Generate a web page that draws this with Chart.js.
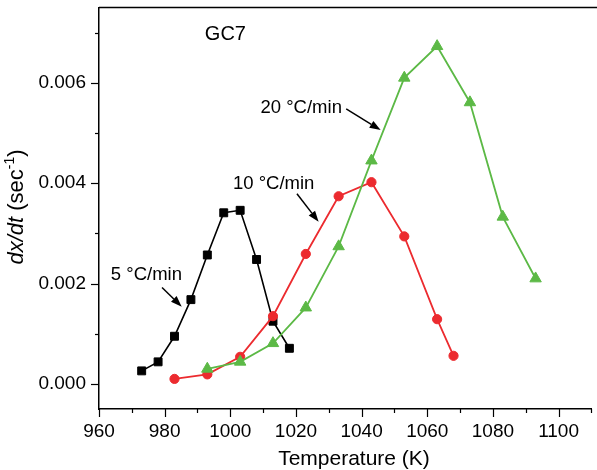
<!DOCTYPE html>
<html>
<head>
<meta charset="utf-8">
<script src="https://cdn.jsdelivr.net/npm/chart.js@4/dist/chart.umd.min.js"></script>
<style>
  html, body { margin: 0; padding: 0; background: #fff; overflow: hidden; }
  #chart { display: block; }
</style>
</head>
<body>
<canvas id="chart" width="599" height="470"></canvas>
<script>
// Temperaturas (K) e taxas dx/dt
const temps5 = [973, 978, 983, 988, 993, 998, 1003, 1008, 1013, 1018];
const rate5 = [0.00026, 0.00044, 0.00095, 0.00168, 0.00257, 0.00341, 0.00346, 0.00248, 0.00125, 0.00071];

const temps10 = [983, 993, 1003, 1013, 1023, 1033, 1043, 1053, 1063, 1068];
const rate10 = [0.00010, 0.00019, 0.00054, 0.00135, 0.00259, 0.00374, 0.00402, 0.00294, 0.00129, 0.00056];

const temps20 = [993, 1003, 1013, 1023, 1033, 1043, 1053, 1063, 1073, 1083, 1093];
const rate20 = [0.00030, 0.00044, 0.00081, 0.00152, 0.00274, 0.00445, 0.00610, 0.00673, 0.00561, 0.00333, 0.00210];

const xTicks = [960, 980, 1000, 1020, 1040, 1060, 1080, 1100];
const yTicks = [0, 0.002, 0.004, 0.006];

// Textos e setas (coordenadas em unidades dos eixos)
const notes = [
    { text: 'GC7', x: 998.5, y: 0.00697, align: 'center', size: 20 },
    { text: '20 °C/min', x: 1009.2, y: 0.00550, align: 'left', size: 18.5 },
    { text: '10 °C/min', x: 1000.8, y: 0.00399, align: 'left', size: 18.5 },
    { text: '5 °C/min', x: 963.6, y: 0.00218, align: 'left', size: 18.5 }
];
const arrows = [
    [1035.3, 0.00548, 1045.8, 0.00506],
    [1020.3, 0.00379, 1026.9, 0.00323],
    [979.2, 0.00192, 985.2, 0.00154]
];

const FONT = "'Liberation Sans', Arial, Helvetica, sans-serif";

function toPoints(xs, ys) {
    return xs.map((x, i) => ({ x: x, y: ys[i] }));
}

// Plugin para bordas, ticks, títulos e anotações
const extras = {
    id: 'extras',
    afterDraw(chart) {
        const ctx = chart.ctx;
        const area = chart.chartArea;
        const xs = chart.scales.x;
        const ys = chart.scales.y;
        ctx.save();
        ctx.strokeStyle = '#000';
        ctx.fillStyle = '#000';
        ctx.lineWidth = 1.5;

        // borda superior
        ctx.beginPath();
        ctx.moveTo(area.left, area.top);
        ctx.lineTo(chart.width, area.top);
        ctx.stroke();

        // ticks do eixo x
        ctx.lineWidth = 1.2;
        for (let v = 960; v <= 1110; v += 10) {
            const px = Math.round(xs.getPixelForValue(v)) + 0.5;
            const len = xTicks.includes(v) ? 8 : 4;
            ctx.beginPath();
            ctx.moveTo(px, area.bottom);
            ctx.lineTo(px, area.bottom + len);
            ctx.stroke();
        }
        // ticks do eixo y
        for (let k = 0; k <= 7; k++) {
            const v = k * 0.001;
            const py = Math.round(ys.getPixelForValue(v)) + 0.5;
            const len = k % 2 === 0 ? 8 : 4;
            ctx.beginPath();
            ctx.moveTo(area.left, py);
            ctx.lineTo(area.left - len, py);
            ctx.stroke();
        }

        // título do eixo x
        ctx.font = '21px ' + FONT;
        ctx.textAlign = 'center';
        ctx.textBaseline = 'middle';
        ctx.fillText('Temperature (K)', 354, 459);

        // título do eixo y (com itálico e sobrescrito)
        const parts = [
            { t: 'dx/dt', f: 'italic 22px ' + FONT, dy: 0 },
            { t: ' (sec', f: '22px ' + FONT, dy: 0 },
            { t: '-1', f: '14px ' + FONT, dy: -7 },
            { t: ')', f: '22px ' + FONT, dy: 0 }
        ];
        let total = 0;
        parts.forEach(p => { ctx.font = p.f; p.w = ctx.measureText(p.t).width; total += p.w; });
        ctx.translate(17, 207);
        ctx.rotate(-Math.PI / 2);
        ctx.textAlign = 'left';
        let cx = -total / 2;
        parts.forEach(p => {
            ctx.font = p.f;
            ctx.fillText(p.t, cx, p.dy);
            cx += p.w;
        });
        ctx.setTransform(1, 0, 0, 1, 0, 0);

        // anotações
        notes.forEach(n => {
            ctx.font = n.size + 'px ' + FONT;
            ctx.textAlign = n.align;
            ctx.textBaseline = 'middle';
            ctx.fillText(n.text, xs.getPixelForValue(n.x), ys.getPixelForValue(n.y));
        });

        // setas
        ctx.lineWidth = 1.5;
        arrows.forEach(a => {
            const x1 = xs.getPixelForValue(a[0]), y1 = ys.getPixelForValue(a[1]);
            const x2 = xs.getPixelForValue(a[2]), y2 = ys.getPixelForValue(a[3]);
            const ang = Math.atan2(y2 - y1, x2 - x1);
            const head = 11, half = 4;
            const bx = x2 - head * Math.cos(ang), by = y2 - head * Math.sin(ang);
            ctx.beginPath();
            ctx.moveTo(x1, y1);
            ctx.lineTo(bx, by);
            ctx.stroke();
            ctx.beginPath();
            ctx.moveTo(x2, y2);
            ctx.lineTo(bx + half * Math.sin(ang), by - half * Math.cos(ang));
            ctx.lineTo(bx - half * Math.sin(ang), by + half * Math.cos(ang));
            ctx.closePath();
            ctx.fill();
        });
        ctx.restore();
    }
};

const ctx = document.getElementById('chart');

const myChart = new Chart(ctx, {
    type: 'line',
    data: {
        datasets: [
            {
                label: '5 °C/min',
                data: toPoints(temps5, rate5),
                borderColor: '#000000',
                backgroundColor: '#000000',
                borderWidth: 1.6,
                pointStyle: 'rect',
                pointRadius: 5.6,
                pointBorderWidth: 1,
                order: 3
            },
            {
                label: '10 °C/min',
                data: toPoints(temps10, rate10),
                borderColor: '#ec2b2f',
                backgroundColor: '#ec2b2f',
                borderWidth: 1.8,
                pointStyle: 'circle',
                pointRadius: 4.6,
                pointBorderWidth: 1,
                order: 2
            },
            {
                label: '20 °C/min',
                data: toPoints(temps20, rate20),
                borderColor: '#5cb946',
                backgroundColor: '#5cb946',
                borderWidth: 1.8,
                pointStyle: 'triangle',
                pointRadius: 6.6,
                pointBorderWidth: 1,
                order: 1
            }
        ]
    },
    options: {
        responsive: false,
        animation: false,
        layout: { padding: { top: 6, right: 0, left: 0, bottom: 0 } },
        plugins: {
            legend: { display: false },
            tooltip: { enabled: false }
        },
        scales: {
            x: {
                type: 'linear',
                min: 960,
                max: 1110,
                afterBuildTicks(scale) { scale.ticks = xTicks.map(v => ({ value: v })); },
                afterFit(scale) {
                    scale.height = 61;
                    scale.paddingLeft = 0;
                    scale.paddingRight = 0;
                },
                grid: { drawOnChartArea: false, drawTicks: false },
                border: { color: '#000', width: 1.5 },
                ticks: {
                    padding: 11,
                    color: '#000',
                    font: { family: FONT, size: 19 },
                    maxRotation: 0,
                    autoSkip: false,
                    callback: (v) => String(v)
                }
            },
            y: {
                type: 'linear',
                min: -0.0005,
                max: 0.0075,
                afterBuildTicks(scale) { scale.ticks = yTicks.map(v => ({ value: v })); },
                afterFit(scale) {
                    scale.width = 99;
                    scale.paddingTop = 0;
                    scale.paddingBottom = 0;
                },
                grid: { drawOnChartArea: false, drawTicks: false },
                border: { color: '#000', width: 1.5 },
                ticks: {
                    padding: 13,
                    color: '#000',
                    font: { family: FONT, size: 19 },
                    autoSkip: false,
                    callback: (v) => v.toFixed(3)
                }
            }
        }
    },
    plugins: [extras]
});
</script>
</body>
</html>
